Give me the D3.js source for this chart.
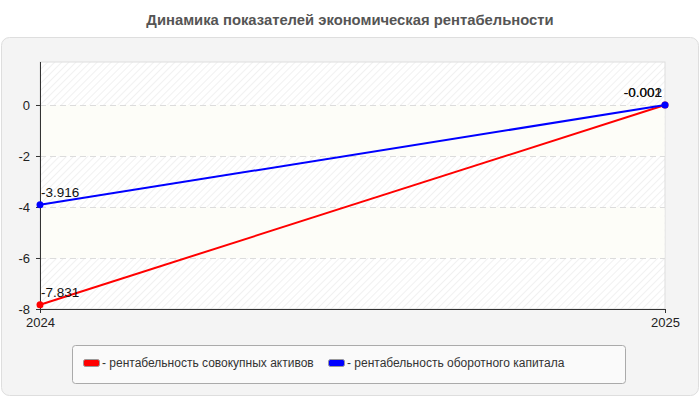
<!DOCTYPE html>
<html>
<head>
<meta charset="utf-8">
<script src="https://cdn.jsdelivr.net/npm/d3@7"></script>
<style>
  body { margin: 0; background: #fff; }
  svg { display: block; font-family: "Liberation Sans", Arial, sans-serif; }
</style>
</head>
<body>
<svg id="chart"></svg>
<script>
// chart values
const years = ['2024', '2025'];
const assetsReturn = [-7.831, -0.001];
const capitalReturn = [-3.916, -0.002];
const yTicks = [0, -2, -4, -6, -8];
const seriesNames = ['рентабельность совокупных активов', 'рентабельность оборотного капитала'];
const seriesColors = ['#ff0000', '#0000ff'];

const width = 700, height = 400;
const margin = { left: 40, right: 35, top: 62, bottom: 91 };

const svg = d3.select('#chart')
    .attr('width', width)
    .attr('height', height);

// hatch pattern for the plot background
const defs = svg.append('defs');
const pat = defs.append('pattern')
    .attr('id', 'hatch')
    .attr('patternUnits', 'userSpaceOnUse')
    .attr('width', 5).attr('height', 5)
    .attr('patternTransform', 'rotate(45)');
pat.append('rect').attr('width', 5).attr('height', 5).attr('fill', '#ffffff');
pat.append('line')
    .attr('x1', 0).attr('y1', 0).attr('x2', 0).attr('y2', 5)
    .attr('stroke', '#e8e8e8').attr('stroke-width', 1.2);

// title
svg.append('text')
    .attr('x', width / 2)
    .attr('y', 25)
    .attr('text-anchor', 'middle')
    .attr('font-size', 14.8)
    .attr('font-weight', 'bold')
    .attr('fill', '#555')
    .text('Динамика показателей экономическая рентабельности');

// outer panel
svg.append('rect')
    .attr('x', 1.5).attr('y', 37.5)
    .attr('width', width - 3).attr('height', 358)
    .attr('rx', 8)
    .attr('fill', '#f4f4f4')
    .attr('stroke', '#dedede');

const innerW = width - margin.left - margin.right;
const innerH = height - margin.top - margin.bottom;

const xScale = d3.scalePoint()
    .domain(years)
    .range([0, innerW]);

const yScale = d3.scaleLinear()
    .domain([-8, 1.686])
    .range([innerH, 0]);

const chart = svg.append('g')
    .attr('transform', `translate(${margin.left},${margin.top})`);

// plot background
chart.append('rect')
    .attr('x', 0).attr('y', 0)
    .attr('width', innerW).attr('height', innerH)
    .attr('fill', 'url(#hatch)')
    .attr('stroke', '#dddddd');

// alternating plain bands
const bands = [[0, -2], [-4, -6]];
chart.selectAll('.band')
    .data(bands)
    .join('rect')
    .attr('class', 'band')
    .attr('x', 0.5)
    .attr('width', innerW - 1)
    .attr('y', d => yScale(d[0]))
    .attr('height', d => yScale(d[1]) - yScale(d[0]))
    .attr('fill', '#fdfdf8');

// grid lines
chart.selectAll('.grid')
    .data(yTicks.filter(d => d !== -8))
    .join('line')
    .attr('class', 'grid')
    .attr('x1', 0).attr('x2', innerW)
    .attr('y1', d => Math.round(yScale(d)) + 0.5)
    .attr('y2', d => Math.round(yScale(d)) + 0.5)
    .attr('stroke', '#dcdcdc')
    .attr('stroke-dasharray', '6,4');

// axes
const yAxis = d3.axisLeft(yScale).tickValues(yTicks).tickSize(4).tickPadding(6)
    .tickFormat(d => String(d));
const xAxis = d3.axisBottom(xScale).tickSize(4).tickPadding(5);

const yAxisG = chart.append('g').call(yAxis);
yAxisG.select('.domain').attr('d', `M0.5,0V${innerH}`);
yAxisG.selectAll('.tick line').attr('stroke', 'none');
yAxisG.selectAll('text').attr('font-size', 13).attr('fill', '#222').attr('font-family', 'Liberation Sans, Arial, sans-serif');

const xAxisG = chart.append('g')
    .attr('transform', `translate(0,${innerH})`)
    .call(xAxis);
xAxisG.select('.domain').attr('d', `M0,0.5H${innerW}`);
xAxisG.selectAll('text').attr('font-size', 13).attr('fill', '#222').attr('font-family', 'Liberation Sans, Arial, sans-serif');
chart.selectAll('.domain, .tick line').attr('stroke', '#333');

// lines
const series = [assetsReturn, capitalReturn];
const line = d3.line()
    .x((d, i) => xScale(years[i]))
    .y(d => yScale(d));

series.forEach((vals, s) => {
    chart.append('path')
        .datum(vals)
        .attr('fill', 'none')
        .attr('stroke', seriesColors[s])
        .attr('stroke-width', 2)
        .attr('d', line);

    chart.selectAll(`.pt${s}`)
        .data(vals)
        .join('circle')
        .attr('cx', (d, i) => xScale(years[i]))
        .attr('cy', d => yScale(d))
        .attr('r', 3.5)
        .attr('fill', seriesColors[s]);

    chart.selectAll(`.lbl${s}`)
        .data(vals)
        .join('text')
        .attr('x', (d, i) => xScale(years[i]) + (i === 0 ? 1 : -3))
        .attr('y', d => yScale(d) - 8)
        .attr('text-anchor', (d, i) => i === 0 ? 'start' : 'end')
        .attr('font-size', 13.5)
        .attr('fill', '#111')
        .text(d => d.toFixed(3));
});

// legend
const legend = svg.append('g');
legend.append('rect')
    .attr('x', 72.5).attr('y', 345.5)
    .attr('width', 553).attr('height', 38)
    .attr('rx', 3)
    .attr('fill', '#fafafa')
    .attr('stroke', '#aaaaaa');

const legendX = [83, 328];
seriesNames.forEach((name, i) => {
    legend.append('rect')
        .attr('x', legendX[i] + 0.5).attr('y', 359.5)
        .attr('width', 16).attr('height', 7)
        .attr('rx', 2)
        .attr('fill', seriesColors[i])
        .attr('stroke', '#999');
    legend.append('text')
        .attr('x', legendX[i] + 19)
        .attr('y', 367)
        .attr('font-size', 12)
        .attr('fill', '#333')
        .text('- ' + name);
});
</script>
</body>
</html>
